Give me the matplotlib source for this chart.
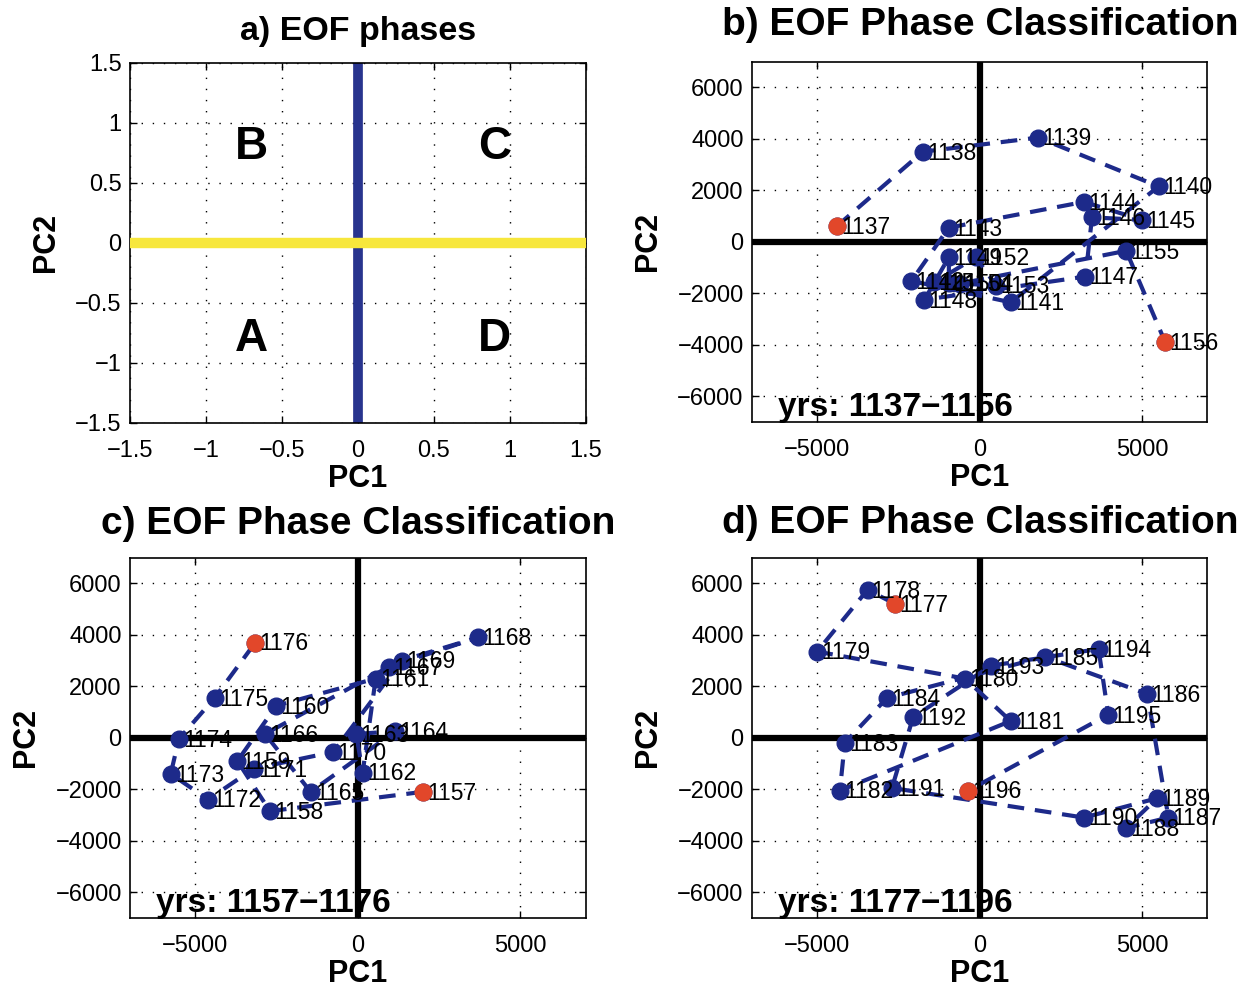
import numpy as np
import matplotlib
matplotlib.use('Agg')
import matplotlib.pyplot as plt
from matplotlib.ticker import FuncFormatter

plt.rcParams['font.family'] = ['Liberation Sans', 'DejaVu Sans']

# panel b: 1137-1156
years_b = list(range(1137, 1157))
pc1_b = [-4400, -1750, 1800, 5500, 950, -2100, -950, 3200, 5000, 3450,
         3250, -1700, -950, -950, -1400, -120, 500, -600, 4500, 5700]
pc2_b = [600, 3500, 4050, 2150, -2350, -1520, 550, 1550, 850, 950,
         -1350, -2250, -600, -1600, -1580, -600, -1700, -1620, -350, -3900]

# panel c: 1157-1176
years_c = list(range(1157, 1177))
pc1_c = [2000, -2700, -3700, -2500, 550, 150, -50, 1150, -1450, -2850,
         950, 3700, 1350, -750, -3200, -4600, -5750, -5500, -4400, -3150]
pc2_c = [-2100, -2850, -900, 1250, 2300, -1350, 150, 250, -2100, 150,
         2750, 3900, 3000, -550, -1200, -2400, -1400, -50, 1550, 3700]

# panel d: 1177-1196
years_d = list(range(1177, 1197))
pc1_d = [-2600, -3450, -5000, -450, 950, -4300, -4150, -2850, 2000, 5150,
         5800, 4500, 5450, 3200, -2700, -2050, 350, 3650, 3950, -350]
pc2_d = [5200, 5750, 3350, 2300, 650, -2050, -200, 1550, 3150, 1700,
         -3100, -3500, -2350, -3100, -1950, 800, 2800, 3450, 900, -2050]

phase_ticks = [-1.5, -1, -0.5, 0, 0.5, 1, 1.5]
phase_letters = ['B', 'C', 'A', 'D']
phase_x = [-0.7, 0.9, -0.7, 0.9]
phase_y = [0.8, 0.8, -0.8, -0.8]

navy = '#1d2a8a'
red = '#e2472a'
yellow = '#f7e73c'

fig = plt.figure(figsize=(12.41, 9.88), dpi=100)
w, h = 0.3670, 0.3647
ax_a = fig.add_axes([0.1048, 0.5719, w, h])
ax_b = fig.add_axes([0.6060, 0.5729, w, h])
ax_c = fig.add_axes([0.1048, 0.0709, w, h])
ax_d = fig.add_axes([0.6060, 0.0709, w, h])

gfmt = FuncFormatter(lambda v, p: ('%g' % v).replace('-', '\u2212'))


def style(ax):
    ax.grid(True, linestyle=(0, (1, 7)), color='k', linewidth=1.0)
    ax.tick_params(direction='in', length=5, top=True, right=True,
                   labelsize=17, width=1)
    ax.tick_params(axis='x', pad=12)
    ax.tick_params(axis='y', pad=6)
    for s in ax.spines.values():
        s.set_linewidth(1.2)
    ax.set_xlabel('PC1', fontsize=22, fontweight='bold', labelpad=2)
    ax.set_ylabel('PC2', fontsize=22, fontweight='bold', labelpad=10)


# a) phases
ax_a.axvline(0, color='#28348e', linewidth=7, zorder=2)
ax_a.axhline(0, color=yellow, linewidth=7.5, zorder=3)
for lt, lx, ly in zip(phase_letters, phase_x, phase_y):
    ax_a.text(lx, ly, lt, fontsize=33, fontweight='bold', ha='center', va='center')
ax_a.set_xlim(-1.5, 1.5)
ax_a.set_ylim(-1.5, 1.5)
ax_a.set_xticks(phase_ticks)
ax_a.set_yticks(phase_ticks)
ax_a.xaxis.set_major_formatter(gfmt)
ax_a.yaxis.set_major_formatter(gfmt)
style(ax_a)
ax_a.set_title('a) EOF phases', fontsize=24.5, fontweight='bold', pad=16)


def traj(ax, yrs, x, y, title, tpad):
    ax.axhline(0, color='k', linewidth=4.5, zorder=1.5)
    ax.axvline(0, color='k', linewidth=4.5, zorder=1.5)
    ax.plot(x, y, linestyle=(0, (4, 2.6)), color=navy, linewidth=3, zorder=3)
    ax.plot(x, y, 'o', color=navy, markersize=12, zorder=4)
    ax.plot([x[0], x[-1]], [y[0], y[-1]], 'o', color=red, markersize=12, zorder=5)
    for yr, xi, yi in zip(yrs, x, y):
        ax.annotate(str(yr), (xi, yi), xytext=(3, -1), textcoords='offset points',
                    fontsize=16.5, ha='left', va='center', zorder=6)
    ax.text(-6200, -6750, 'yrs: %d\u2212%d' % (yrs[0], yrs[-1]), fontsize=24,
            fontweight='bold', ha='left', va='baseline', zorder=7)
    ax.set_xlim(-7000, 7000)
    ax.set_ylim(-7000, 7000)
    ax.set_xticks([-5000, 0, 5000])
    ax.set_yticks(np.arange(-6000, 6001, 2000))
    style(ax)
    ax.set_title(title, fontsize=28, fontweight='bold', pad=tpad)


traj(ax_b, years_b, pc1_b, pc2_b, 'b) EOF Phase Classification', 19)
traj(ax_c, years_c, pc1_c, pc2_c, 'c) EOF Phase Classification', 17)
traj(ax_d, years_d, pc1_d, pc2_d, 'd) EOF Phase Classification', 18)

fig.savefig('out.png', dpi=100)
